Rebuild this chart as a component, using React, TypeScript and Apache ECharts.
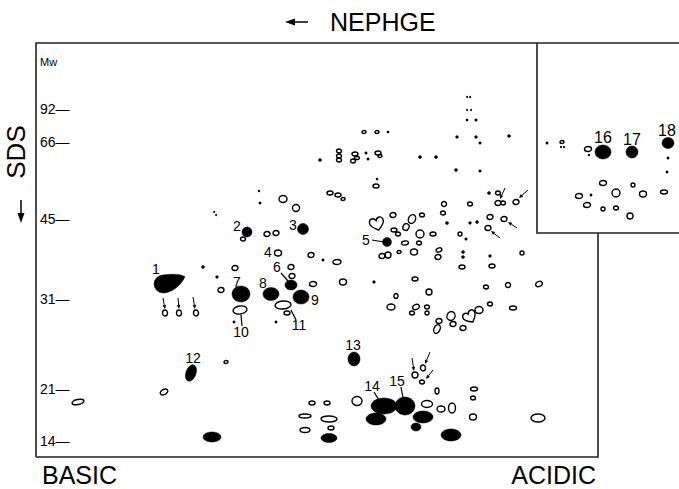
import React, { useEffect, useRef } from "react";
import * as echarts from "echarts";

// Molecular-weight markers (kDa) and their migration position along the SDS dimension
const mwMarkers = ["92", "66", "45", "31", "21", "14"];
const mwPositions = [109, 142, 219, 299, 389, 441];

// Numbered spots: label text and label position (NEPHGE position, SDS position)
const spotLabels = ["1", "2", "3", "4", "5", "6", "7", "8", "9", "10", "11", "12", "13", "14", "15", "16", "17", "18"];
const spotLabelX = [156, 237, 293, 268, 366, 277, 237, 263, 315, 241, 299, 193, 353, 372, 397, 603, 632, 667];
const spotLabelY = [269, 226, 225, 252, 240, 267, 282, 283, 300, 332, 325, 358, 345, 386, 381, 137, 139, 130];

// Filled (intense) spots: [NEPHGE pos, SDS pos, half-width, half-height, tilt deg]
const filledSpots = [
  [247, 232, 5, 5, 0],
  [303, 229, 5.5, 5.5, 0],
  [387, 242, 4.5, 4.5, 0],
  [291, 285, 6, 5, 0],
  [241, 294, 9, 8, 0],
  [271, 294, 8, 6.5, 0],
  [301, 297, 8, 7, 0],
  [191, 373, 5, 8.5, -20],
  [354, 359, 6, 7, 0],
  [384, 406, 13, 8, 0],
  [405, 406, 10, 9, 0],
  [603, 152, 8, 7, 0],
  [632, 152, 6, 6, 0],
  [668, 143, 6, 5.5, 0],
  [212, 437, 9, 5, 0],
  [376, 419, 10, 6, 0],
  [423, 417, 10, 6, 0],
  [416, 427, 5, 4, 0],
  [451, 435, 10, 6, 0],
  [329, 438, 8, 4.5, 0],
];

// Teardrop-shaped spot 1: [NEPHGE pos, SDS pos, radius]
const dropSpots = [[163, 284, 9]];

// Open (weak) spots: [NEPHGE pos, SDS pos, half-width, half-height, tilt deg]
const openSpots = [
  [243, 239, 2.5, 2, 0], [283, 199, 4, 3.5, 0], [296, 208, 3.5, 3.5, 0],
  [267, 234, 3, 2.5, 0], [276, 233, 3, 2.5, 0], [278, 253, 3.5, 3, 0],
  [311, 255, 3, 2.5, 0], [337, 262, 4, 2.5, 0], [235, 268, 3, 2.5, 0],
  [221, 290, 3, 2.5, 0], [291, 267, 3, 2.5, 0], [292, 276, 3, 2.5, 0],
  [313, 284, 3.5, 2.5, 0], [240, 310, 7, 4, 10], [283, 305, 8, 4, 5],
  [287, 313, 3, 2, 0], [330, 193, 3, 2, 0], [338, 195, 3, 2, 0], [343, 199, 2, 1.5, 0],
  [165, 313, 2.5, 3, 0], [179, 313, 2.5, 3, 0], [196, 313, 2.5, 3, 0],
  [339, 151, 2.5, 2, 0], [339, 156, 2.5, 2, 0], [339, 160, 2.5, 2, 0],
  [355, 154, 3, 2, 0], [357, 158, 2.5, 1.5, 0], [353, 161, 2.5, 2, 0],
  [378, 153, 3, 2, 0], [380, 156, 2, 1.5, 0], [364, 132, 2, 1.5, 0], [377, 132, 2, 1.5, 0],
  [376, 186, 3, 2, 0], [498, 193, 2.5, 2, 0], [498, 203, 3, 2.5, 0], [503, 203, 2.5, 2, 0],
  [516, 202, 3, 2.5, 0], [444, 204, 2.5, 2.5, 0], [470, 204, 2.5, 2, 0], [443, 213, 2.5, 2, 0],
  [490, 217, 3, 2.5, 0], [504, 219, 3, 2.5, 0], [488, 228, 3, 2.5, 0], [460, 234, 2, 2, 0],
  [393, 215, 3, 2.5, 0], [412, 219, 3.5, 4.5, -25], [406, 227, 3, 3.5, -25], [422, 215, 2.5, 2, 0],
  [394, 230, 3, 2, 0], [398, 234, 2.5, 2, 0], [420, 234, 4, 4, 0], [433, 234, 3, 2, 0],
  [405, 243, 3.5, 2, 10], [419, 243, 2.5, 2, 0], [382, 256, 3, 2.5, 0], [388, 255, 3, 3, 0],
  [399, 252, 2, 1.5, 0], [414, 252, 3.5, 3, 0], [439, 250, 3, 2, 20], [438, 257, 3, 2.5, 0],
  [462, 267, 3, 2, 0], [492, 266, 3, 2, 0], [522, 253, 2, 2, 0], [415, 279, 3, 2, 0],
  [396, 296, 2, 2.5, 0], [429, 292, 3, 3, 0], [391, 307, 4, 3, 0], [416, 307, 3.5, 2.5, 20],
  [412, 313, 2.5, 2, 0], [427, 307, 2.5, 2, 0], [427, 313, 2, 2, 0], [439, 321, 3, 2.5, 0],
  [437, 329, 3, 4.5, -25], [451, 316, 4, 4.5, -20], [453, 324, 3, 2.5, 0], [463, 328, 3, 2.5, 0],
  [479, 310, 4, 3.5, 0], [490, 304, 2.5, 2, 0], [486, 287, 2.5, 2, 0], [508, 285, 2.5, 2.5, 0],
  [513, 308, 3.5, 2, 0], [539, 284, 3.5, 2.5, 20], [343, 282, 3.5, 3, 0],
  [588, 149, 3.5, 2.5, 0], [562, 142, 2, 1.5, 0], [603, 183, 3.5, 2.5, 0], [633, 185, 2, 2, 0],
  [616, 193, 4, 4, 0], [643, 194, 3.5, 3, 0], [664, 192, 3.5, 2, 0], [579, 196, 3.5, 2.5, 0],
  [587, 205, 3.5, 2.5, 0], [603, 209, 2, 2, 0], [616, 208, 2.5, 2, 0], [630, 216, 3, 3, 0],
  [226, 362, 2, 1.5, 0], [164, 392, 4, 2.5, 25], [78, 402, 6, 2.5, 10],
  [357, 401, 5, 4.5, 0], [312, 403, 3, 2, 0], [327, 403, 3, 2, 0], [305, 416, 6, 2, 0],
  [329, 419, 8, 3, 0], [331, 428, 3, 2, 0], [305, 430, 5, 2.5, 0], [427, 404, 5.5, 3.5, 0],
  [441, 409, 4, 3, 0], [452, 408, 3.5, 5, 0], [437, 391, 2, 3, 0], [474, 389, 3.5, 2, 0],
  [473, 398, 2.5, 2, 0], [473, 417, 3.5, 3, 0], [538, 418, 7, 4, 0],
  [415, 375, 3, 3, 0], [423, 368, 2.5, 3, 0], [422, 382, 2.5, 2, 0],
];

// Open heart-shaped spots: [NEPHGE pos, SDS pos, size, tilt deg]
const heartSpots = [
  [377, 224, 7, 15],
  [470, 317, 6.5, 30],
];

// Faint minor spots: [NEPHGE pos, SDS pos, radius]
const minorSpots = [
  [203, 267, 1.8], [217, 277, 1.6], [234, 322, 1.4], [276, 322, 1.4], [259, 191, 1.2], [260, 203, 1.4],
  [214, 212, 1], [216, 215, 1], [320, 160, 1.8], [366, 153, 1.5], [368, 159, 1.5], [323, 260, 1.5],
  [374, 282, 1.6], [420, 157, 1.8], [436, 157, 1.8], [456, 170, 1.8], [480, 171, 1.5],
  [457, 137, 1.6], [476, 137, 1.6], [480, 143, 1.5], [509, 136, 1.8], [467, 120, 1.3], [476, 120, 1.5],
  [467, 97, 1], [470, 97, 1], [467, 110, 1], [471, 110, 1], [388, 132, 1.3], [489, 193, 1.8],
  [447, 223, 1.8], [470, 223, 1.6], [477, 222, 1.8], [466, 239, 1.5], [463, 252, 1.8], [463, 257, 1.8],
  [490, 256, 1.6], [547, 143, 1.4], [561, 147, 1.1], [564, 147, 1.1], [589, 155, 1.2],
  [591, 195, 1.4], [668, 158, 1.4], [667, 172, 1.4], [377, 179, 1.3],
];

// Leader lines from numbers to spots: [x1, y1, x2, y2]
const leaderLines = [
  [372, 240, 384, 242],
  [281, 273, 288, 281],
  [242, 326, 241, 315],
  [296, 320, 291, 310],
  [374, 392, 379, 400],
  [401, 387, 403, 398],
];

// Arrows pointing to spots: [x1, y1, x2, y2] (head at x2, y2)
const pointerArrows = [
  [163, 298, 165, 309],
  [178, 298, 179, 309],
  [193, 297, 195, 309],
  [505, 188, 500, 199],
  [528, 190, 519, 198],
  [517, 228, 508, 222],
  [500, 238, 491, 231],
  [412, 358, 414, 371],
  [430, 352, 425, 364],
  [433, 370, 426, 379],
];

const FONT = '"Liberation Sans", Arial, Helvetica, sans-serif';

function heartPath(s: number) {
  const p = (v: number) => (v * s).toFixed(2);
  return `M 0 ${p(0.9)} C ${p(-0.7)} ${p(0.4)} ${p(-1.1)} 0 ${p(-1)} ${p(-0.45)} ` +
    `C ${p(-0.9)} ${p(-1)} ${p(-0.25)} ${p(-1.05)} 0 ${p(-0.5)} ` +
    `C ${p(0.25)} ${p(-1.05)} ${p(0.9)} ${p(-1)} ${p(1)} ${p(-0.45)} ` +
    `C ${p(1.1)} 0 ${p(0.7)} ${p(0.4)} 0 ${p(0.9)} Z`;
}

function dropPath(r: number) {
  const p = (v: number) => (v * r).toFixed(2);
  return `M ${p(2.45)} ${p(-0.8)} C ${p(1.8)} ${p(-1.2)} ${p(0.7)} ${p(-1.1)} 0 ${p(-1)} ` +
    `A ${p(1)} ${p(1)} 0 0 0 0 ${p(1)} C ${p(0.9)} ${p(1)} ${p(1.9)} ${p(0.3)} ${p(2.45)} ${p(-0.8)} Z`;
}

export default function App() {
  const ref = useRef<HTMLDivElement>(null);

  useEffect(() => {
    if (!ref.current) return;
    const chart = echarts.init(ref.current, null, { renderer: "svg" });

    const ellipseRenderer = (filled: boolean) => (params: any, api: any) => {
      const c = api.coord([api.value(0), api.value(1)]);
      const s = api.size([1, 1]);
      return {
        type: "ellipse",
        x: c[0],
        y: c[1],
        rotation: (api.value(4) * Math.PI) / 180,
        shape: { cx: 0, cy: 0, rx: api.value(2) * s[0], ry: api.value(3) * s[1] },
        style: filled
          ? { fill: "#000", stroke: "#000", lineWidth: 0.5 }
          : { fill: "none", stroke: "#000", lineWidth: 1.4 },
      };
    };

    const option: any = {
      animation: false,
      backgroundColor: "#fff",
      grid: { left: 36, right: 0, top: 43, bottom: 32, containLabel: false },
      xAxis: { type: "value", min: 36, max: 679, show: false },
      yAxis: {
        type: "value",
        min: 43,
        max: 457,
        inverse: true,
        axisLine: { show: false },
        axisTick: { show: false },
        splitLine: { show: false },
        axisLabel: {
          inside: true,
          margin: 4,
          customValues: mwPositions,
          color: "#000",
          fontSize: 14,
          fontFamily: FONT,
          formatter: (v: number) => {
            const i = mwPositions.indexOf(Number(v));
            return i >= 0 ? mwMarkers[i] + "—" : "";
          },
        },
      },
      graphic: [
        { type: "polyline", shape: { points: [[36, 457], [36, 43], [679, 43]] }, style: { stroke: "#222", lineWidth: 1.6, fill: "none" } },
        { type: "polyline", shape: { points: [[36, 457], [598, 457], [598, 233]] }, style: { stroke: "#222", lineWidth: 1.6, fill: "none" } },
        { type: "polyline", shape: { points: [[537, 43], [537, 233], [679, 233]] }, style: { stroke: "#222", lineWidth: 1.6, fill: "none" } },
        { type: "text", x: 40, y: 62, style: { text: "Mw", font: `11px ${FONT}`, fill: "#000", verticalAlign: "middle" } },
        { type: "text", x: 330, y: 22, style: { text: "NEPHGE", font: `25px ${FONT}`, fill: "#000", verticalAlign: "middle" } },
        { type: "line", shape: { x1: 290, y1: 22, x2: 308, y2: 22 }, style: { stroke: "#000", lineWidth: 1.5 } },
        { type: "polygon", shape: { points: [[285, 22], [295, 18.5], [295, 25.5]] }, style: { fill: "#000" } },
        { type: "text", x: 16, y: 152, rotation: Math.PI / 2, style: { text: "SDS", font: `26px ${FONT}`, fill: "#000", align: "center", verticalAlign: "middle" } },
        { type: "line", shape: { x1: 21, y1: 200, x2: 21, y2: 216 }, style: { stroke: "#000", lineWidth: 1.5 } },
        { type: "polygon", shape: { points: [[21, 223], [17.5, 213], [24.5, 213]] }, style: { fill: "#000" } },
        { type: "text", x: 42, y: 475, style: { text: "BASIC", font: `25px ${FONT}`, fill: "#000", verticalAlign: "middle" } },
        { type: "text", x: 596, y: 475, style: { text: "ACIDIC", font: `25px ${FONT}`, fill: "#000", align: "right", verticalAlign: "middle" } },
      ],
      series: [
        { type: "custom", name: "open", data: openSpots, renderItem: ellipseRenderer(false), silent: true },
        {
          type: "custom",
          name: "hearts",
          data: heartSpots,
          silent: true,
          renderItem: (params: any, api: any) => {
            const c = api.coord([api.value(0), api.value(1)]);
            const s = api.size([1, 1]);
            return {
              type: "path",
              x: c[0],
              y: c[1],
              rotation: (api.value(3) * Math.PI) / 180,
              shape: { pathData: heartPath(api.value(2) * s[0]) },
              style: { fill: "none", stroke: "#000", lineWidth: 1.4 },
            };
          },
        },
        { type: "custom", name: "filled", data: filledSpots, renderItem: ellipseRenderer(true), silent: true },
        {
          type: "custom",
          name: "drop",
          data: dropSpots,
          silent: true,
          renderItem: (params: any, api: any) => {
            const c = api.coord([api.value(0), api.value(1)]);
            const s = api.size([1, 1]);
            return {
              type: "path",
              x: c[0],
              y: c[1],
              shape: { pathData: dropPath(api.value(2) * s[0]) },
              style: { fill: "#000", stroke: "#000", lineWidth: 0.5 },
            };
          },
        },
        {
          type: "custom",
          name: "minor",
          data: minorSpots,
          silent: true,
          renderItem: (params: any, api: any) => {
            const c = api.coord([api.value(0), api.value(1)]);
            const s = api.size([1, 1]);
            return {
              type: "circle",
              shape: { cx: c[0], cy: c[1], r: api.value(2) * s[0] },
              style: { fill: "#000" },
            };
          },
        },
        {
          type: "custom",
          name: "leaders",
          data: leaderLines,
          silent: true,
          renderItem: (params: any, api: any) => {
            const a = api.coord([api.value(0), api.value(1)]);
            const b = api.coord([api.value(2), api.value(3)]);
            return {
              type: "line",
              shape: { x1: a[0], y1: a[1], x2: b[0], y2: b[1] },
              style: { stroke: "#000", lineWidth: 1.2 },
            };
          },
        },
        {
          type: "custom",
          name: "arrows",
          data: pointerArrows,
          silent: true,
          renderItem: (params: any, api: any) => {
            const a = api.coord([api.value(0), api.value(1)]);
            const b = api.coord([api.value(2), api.value(3)]);
            const dx = b[0] - a[0];
            const dy = b[1] - a[1];
            const len = Math.sqrt(dx * dx + dy * dy) || 1;
            const ux = dx / len;
            const uy = dy / len;
            const hl = 4;
            const hw = 1.8;
            const bx = b[0] - ux * hl;
            const by = b[1] - uy * hl;
            return {
              type: "group",
              children: [
                { type: "line", shape: { x1: a[0], y1: a[1], x2: bx, y2: by }, style: { stroke: "#000", lineWidth: 1 } },
                {
                  type: "polygon",
                  shape: { points: [[b[0], b[1]], [bx - uy * hw, by + ux * hw], [bx + uy * hw, by - ux * hw]] },
                  style: { fill: "#000" },
                },
              ],
            };
          },
        },
        {
          type: "custom",
          name: "labels",
          data: spotLabels.map((_, i) => [spotLabelX[i], spotLabelY[i]]),
          silent: true,
          renderItem: (params: any, api: any) => {
            const c = api.coord([api.value(0), api.value(1)]);
            const big = params.dataIndex >= 15;
            return {
              type: "text",
              x: c[0],
              y: c[1],
              style: {
                text: spotLabels[params.dataIndex],
                font: `${big ? 16 : 14}px ${FONT}`,
                fill: "#000",
                align: "center",
                verticalAlign: "middle",
              },
            };
          },
        },
      ],
    };

    chart.setOption(option);
    return () => chart.dispose();
  }, []);

  return (
    <div
      ref={ref}
      style={{ position: "fixed", left: 0, top: 0, width: 679, height: 489, background: "#fff" }}
    />
  );
}
